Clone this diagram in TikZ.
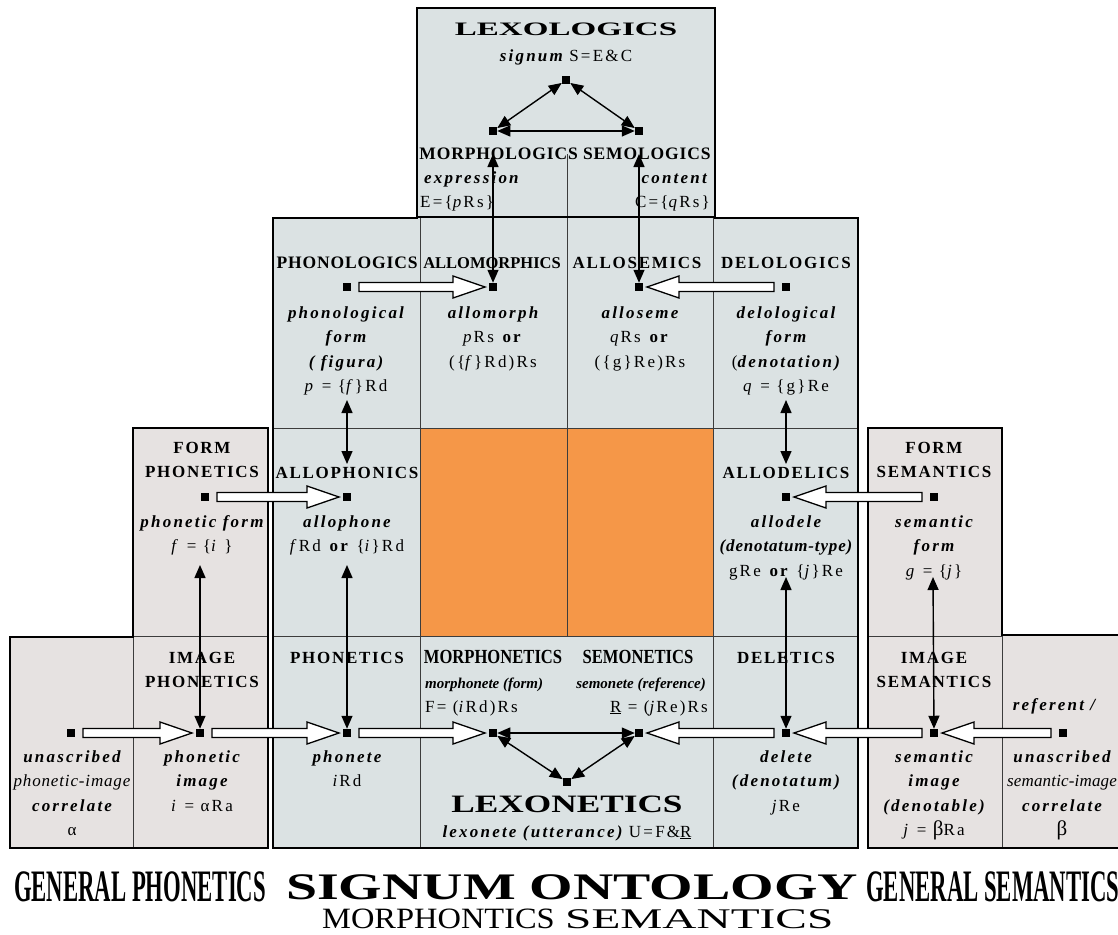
\documentclass[tikz,border=0pt]{standalone}
\usepackage{graphicx}
\usepackage{fontspec}
\setmainfont{Liberation Serif}
\newfontfamily\spc[LetterSpace=13]{Liberation Serif}
\newfontfamily\hdfont[LetterSpace=10]{Liberation Serif}
\newfontfamily\tightfont[LetterSpace=5]{Liberation Serif}
\usetikzlibrary{arrows.meta,calc}

\definecolor{midfill}{RGB}{219,226,227}
\definecolor{sidefill}{RGB}{230,226,225}
\definecolor{orangefill}{RGB}{245,151,72}
\definecolor{rulecol}{RGB}{60,60,60}

\newcommand\bi[1]{{\bfseries\itshape #1}}
\newcommand\uR{\underline{R}}
\newcommand\firstline{\rule{0pt}{13pt}}

% broad white arrow between two nodes on the same row
\newcommand\bigarrow[2]{%
  \path[hollow] let \p1=(#1), \p2=(#2), \n1={sign(\x2-\x1)} in
    ({\x1+\n1*12pt},{\y1+4.5pt}) -- ({\x2-\n1*40pt},{\y1+4.5pt})
    -- ({\x2-\n1*40pt},{\y1+11pt}) -- ({\x2-\n1*8pt},\y1)
    -- ({\x2-\n1*40pt},{\y1-11pt}) -- ({\x2-\n1*40pt},{\y1-4.5pt})
    -- ({\x1+\n1*12pt},{\y1-4.5pt}) -- cycle;}

\tikzset{
  hdg/.style={font=\hdfont\bfseries\fontsize{17}{20}\selectfont, inner sep=0pt, anchor=base},
  hdgt/.style={font=\tightfont\bfseries\fontsize{17.5}{20}\selectfont, inner sep=0pt, anchor=base},
  cond/.style={font=\rmfamily\bfseries\fontsize{20}{22}\selectfont, inner sep=0pt, anchor=base},
  txt/.style={font=\spc\fontsize{17}{24.5}\selectfont, align=center, inner sep=0pt, anchor=north},
  txtl/.style={font=\spc\fontsize{17}{20}\selectfont, inner sep=0pt, anchor=base},
  small/.style={font=\rmfamily\bfseries\itshape\fontsize{15}{18}\selectfont, inner sep=0pt},
  title/.style={inner sep=0pt, anchor=base},
  sq/.style={fill=black, minimum size=8.5pt, inner sep=0pt, outer sep=0pt},
  dlink/.style={line width=1.4pt, {Triangle[length=13pt,width=11pt]}-{Triangle[length=13pt,width=11pt]}},
  hollow/.style={draw=black, fill=white, line width=1.3pt, line join=miter},
  frameline/.style={draw=black, line width=2.6pt, line join=miter},
  cellline/.style={draw=rulecol, line width=0.8pt},
}

\begin{document}
\begin{tikzpicture}[x=1pt,y=-1pt]
\useasboundingbox (0,0) rectangle (1118,934);

% ---------- panels ----------
\fill[sidefill] (10,637) -- (133,637) -- (133,428) -- (268,428) -- (268,848) -- (10,848) -- cycle;
\fill[sidefill] (868,428) -- (1002,428) -- (1002,635) -- (1125,635) -- (1125,848) -- (868,848) -- cycle;
\fill[midfill] (273,218) -- (417,218) -- (417,8) -- (715,8) -- (715,218) -- (858,218) -- (858,848) -- (273,848) -- cycle;
\fill[orangefill] (420,428) rectangle (713,636);

% cell lines
\draw[cellline] (420,218) -- (420,848);
\draw[cellline] (713,218) -- (713,848);
\draw[cellline] (567,154) -- (567,636);
\draw[cellline] (273,428) -- (858,428);
\draw[cellline] (273,636) -- (858,636);
\draw[draw=black, line width=2pt] (417,217) -- (715,217);
\draw[cellline] (133,636) -- (268,636);
\draw[cellline] (133,637) -- (133,848);
\draw[cellline] (868,636) -- (1002,636);
\draw[cellline] (1002,636) -- (1002,848);

% outlines
\draw[frameline] (10,637) -- (133,637) -- (133,428) -- (268,428) -- (268,848) -- (10,848) -- cycle;
\draw[frameline] (868,428) -- (1002,428) -- (1002,635) -- (1125,635) -- (1125,848) -- (868,848) -- cycle;
\draw[frameline] (273,218) -- (417,218) -- (417,8) -- (715,8) -- (715,218) -- (858,218) -- (858,848) -- (273,848) -- cycle;

% ---------- lexologics ----------
\node[font=\bfseries\fontsize{19}{22}\selectfont, title] (lexol) at (566,36) {\scalebox{1.74}[1]{LEXOLOGICS}};
\node[txtl] (signum) at (566,61) {\bi{signum} S=E\&C};
\node[hdgt] (morsem) at (565,159) {MORPHOLOGICS SEMOLOGICS};
\node[txtl, anchor=base west] (expr) at (424,183) {\bi{expression}};
\node[txtl, anchor=base west] (Eeq) at (420,207) {E=\{\textit{p}Rs\}};
\node[txtl, anchor=base east] (cont) at (707,183) {\bi{content}};
\node[txtl, anchor=base east] (Ceq) at (710,207) {C=\{\textit{q}Rs\}};

% ---------- row 1 ----------
\node[hdgt] (h-phonol) at (347,268) {PHONOLOGICS};
\node[hdgt, font=\rmfamily\bfseries\fontsize{16.5}{20}\selectfont] (h-allomorph) at (492,268) {ALLOMORPHICS};
\node[hdg] (h-allosem) at (637,268) {ALLOSEMICS};
\node[hdg] (h-delol) at (786,268) {DELOLOGICS};

\node[txt] (b-phonol) at (346,305) {\firstline\bi{phonological}\\\bi{form}\\\bi{( figura)}\\\textit{p} = \{\textit{f}\}Rd};
\node[txt] (b-allomorph) at (493,305) {\firstline\bi{allomorph}\\\textit{p}Rs \textbf{or}\\(\{\textit{f}\}Rd)Rs};
\node[txt] (b-alloseme) at (640,305) {\firstline\bi{alloseme}\\\textit{q}Rs \textbf{or}\\(\{g\}Re)Rs};
\node[txt] (b-delol) at (786,305) {\firstline\bi{delological}\\\bi{form}\\(\bi{denotation)}\\\textit{q} = \{g\}Re};

% ---------- row 2 ----------
\node[hdg] (h-form1) at (202,453) {FORM};
\node[hdg] (h-phonetics1) at (202,477) {PHONETICS};
\node[hdg] (h-allophon) at (347,478) {ALLOPHONICS};
\node[hdg] (h-allodel) at (786,478) {ALLODELICS};
\node[hdg] (h-form2) at (934,453) {FORM};
\node[hdg] (h-semantics1) at (934,477) {SEMANTICS};

\node[txt] (b-phonform) at (202,514) {\firstline\bi{phonetic form}\\\textit{f} = \{\textit{i} \}};
\node[txt] (b-allophone) at (347,514) {\firstline\bi{allophone}\\\textit{f}Rd \textbf{or} \{\textit{i}\}Rd};
\node[txt] (b-allodele) at (786,514) {\firstline\bi{allodele}\\{\addfontfeature{LetterSpace=5}\bi{(denotatum-type)}}\\gRe \textbf{or} \{\textit{j}\}Re};
\node[txt] (b-semform) at (934,514) {\firstline\bi{semantic}\\\bi{form}\\\textit{g} = \{\textit{j}\}};

% ---------- row 3 ----------
\node[hdg] (h-image1) at (202,663) {IMAGE};
\node[hdg] (h-phonetics2) at (202,687) {PHONETICS};
\node[hdg] (h-phonetics3) at (347,663) {PHONETICS};
\node[cond] (h-morphon) at (493,663) {\scalebox{0.83}[1]{MORPHONETICS}};
\node[cond] (h-semon) at (638,663) {\scalebox{0.83}[1]{SEMONETICS}};
\node[hdg] (h-deletics) at (786,663) {DELETICS};
\node[hdg] (h-image2) at (934,663) {IMAGE};
\node[hdg] (h-semantics2) at (934,687) {SEMANTICS};

\node[small, anchor=base west] (morphonete) at (425,688) {morphonete (form)};
\node[small, anchor=base east] (semonete) at (706,688) {semonete (reference)};
\node[txtl, anchor=base west] (Feq) at (425,712) {F= (\textit{i}Rd)Rs};
\node[txtl, anchor=base east] (Req) at (708,712) {\uR{} = (\textit{j}Re)Rs};

\node[font=\bfseries\fontsize{25}{28}\selectfont, title] (lexon) at (567,812) {\scalebox{1.41}[1]{LEXONETICS}};
\node[txtl] (lexonete) at (567,837) {\bi{lexonete (utterance)} U=F\&\uR};

\node[txt] (b-alpha) at (72,749) {\firstline\bi{unascribed}\\{\addfontfeature{LetterSpace=5}\itshape phonetic-image}\\\bi{correlate}\\α};
\node[txt] (b-phonimg) at (202,749) {\firstline\bi{phonetic}\\\bi{image}\\\textit{i} = αRa};
\node[txt] (b-phonete) at (347,749) {\firstline\bi{phonete}\\\textit{i}Rd};
\node[txt] (b-delete) at (786,749) {\firstline\bi{delete}\\\bi{(denotatum)}\\\textit{j}Re};
\node[txt] (b-semimg) at (934,749) {\firstline\bi{semantic}\\\bi{image}\\\bi{(denotable)}\\\textit{j} = {\fontsize{21}{24}\selectfont β}Ra};
\node[txt] (b-beta) at (1062,749) {\firstline\bi{unascribed}\\{\addfontfeature{LetterSpace=1}\itshape semantic-image}\\\bi{correlate}\\{\fontsize{21}{24}\selectfont β}};
\node[txtl] (referent-lbl) at (1054,710) {\bi{referent /}};

% ---------- points ----------
\node[sq] (S) at (566,80) {};
\node[sq] (E) at (493,131) {};
\node[sq] (C) at (639,131) {};
\node[sq] (phonol) at (347,287) {};
\node[sq] (allomorph) at (493,287) {};
\node[sq] (alloseme) at (639,287) {};
\node[sq] (delol) at (786,287) {};
\node[sq] (phonform) at (205,497) {};
\node[sq] (allophone) at (347,497) {};
\node[sq] (allodele) at (786,497) {};
\node[sq] (semform) at (934,497) {};
\node[sq] (alpha) at (71,733) {};
\node[sq] (phonimg) at (200,733) {};
\node[sq] (phonete) at (347,733) {};
\node[sq] (F) at (493,733) {};
\node[sq] (R) at (639,733) {};
\node[sq] (U) at (567,782) {};
\node[sq] (delete) at (786,733) {};
\node[sq] (semimg) at (934,733) {};
\node[sq] (referent) at (1063,733) {};

% ---------- thin two-way arrows ----------
\draw[dlink] (S) -- (E);
\draw[dlink] (S) -- (C);
\draw[dlink] (E) -- (C);
\draw[dlink] (F) -- (R);
\draw[dlink] (F) -- (U);
\draw[dlink] (R) -- (U);

\coordinate (mtop) at (493,154);
\coordinate (stop) at (639,154);
\coordinate (pa) at (347,400);
\coordinate (pb) at (347,464);
\coordinate (da) at (786,400);
\coordinate (db) at (786,464);
\coordinate (fa) at (200,565);
\coordinate (aa) at (347,565);
\coordinate (ea) at (786,577);
\coordinate (ga) at (933,577);
\draw[dlink] (mtop) -- (allomorph);
\draw[dlink] (stop) -- (alloseme);
\draw[dlink] (pa) -- (pb);
\draw[dlink] (da) -- (db);
\draw[dlink] (fa) -- (phonimg);
\draw[dlink] (aa) -- (phonete);
\draw[dlink] (ea) -- (delete);
\draw[dlink] (ga) -- (semimg);

% ---------- broad arrows ----------
\bigarrow{phonol}{allomorph}
\bigarrow{delol}{alloseme}
\bigarrow{phonform}{allophone}
\bigarrow{semform}{allodele}
\bigarrow{alpha}{phonimg}
\bigarrow{phonimg}{phonete}
\bigarrow{phonete}{F}
\bigarrow{delete}{R}
\bigarrow{semimg}{delete}
\bigarrow{referent}{semimg}

% ---------- titles ----------
\node[font=\bfseries\fontsize{45}{48}\selectfont, title] (genphon) at (140,901) {\scalebox{0.505}[1]{GENERAL PHONETICS}};
\node[font=\bfseries\fontsize{45}{48}\selectfont, title, anchor=base west] (gensem) at (866,901) {\scalebox{0.505}[1]{GENERAL SEMANTICS}};
\node[font=\bfseries\fontsize{37.5}{40}\selectfont, title, text depth=0pt] (ontology) at (572,899) {\scalebox{1.49}[1]{SIGNUM ONTOLOGY}};
\node[font=\fontsize{29.5}{32}\selectfont, title, anchor=base east, text height=20pt] (morphon) at (555,928) {\scalebox{1.1}[1]{MORPHONTICS}};
\node[font=\fontsize{28.5}{32}\selectfont, title, anchor=base west, text height=20pt] (semantics) at (565,928) {\scalebox{1.66}[1]{SEMANTICS}};
\end{tikzpicture}
\end{document}
